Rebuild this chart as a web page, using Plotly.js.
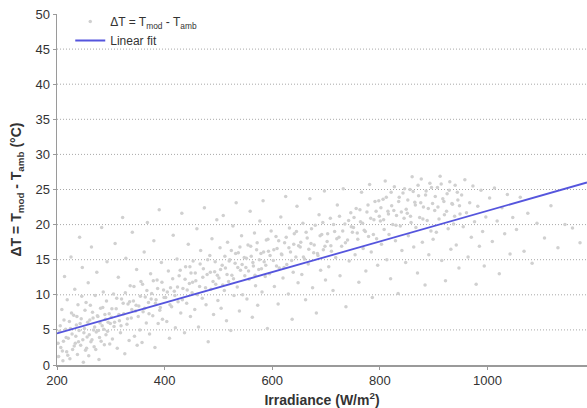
<!DOCTYPE html>
<html>
<head>
<meta charset="utf-8">
<script src="https://cdn.plot.ly/plotly-3.0.1.min.js"></script>
<style>html,body{margin:0;padding:0;background:#fff;}#chart{width:587px;height:408px;}</style>
</head>
<body>
<div id="chart"></div>
<script>
const irradiance = [
203,205,207,209,211,212,214,216,218,219,221,223,224,226,228,229,231,233,234,236,238,239,241,242,244,245,247,248,249,246,
251,253,254,256,258,259,261,263,264,266,268,269,271,273,274,276,278,279,281,283,284,286,288,289,291,293,295,298,
301,303,305,306,308,310,312,314,316,318,320,322,324,326,328,330,332,334,336,338,340,342,344,346,348,349,
352,354,356,358,360,362,364,366,368,370,372,374,376,378,380,382,384,386,388,390,392,394,396,398,
402,404,407,409,411,413,416,418,420,423,425,427,430,432,434,437,439,441,444,446,448,449,
451,453,456,458,460,463,465,467,470,472,474,477,479,481,484,486,488,491,493,495,497,499,
501,503,505,507,509,511,513,515,517,519,521,523,525,527,529,531,533,535,537,539,541,543,545,548,
551,553,555,557,559,561,563,565,567,569,571,573,575,577,579,581,583,585,587,589,591,593,595,598,
602,604,607,609,611,613,616,618,620,623,625,627,630,632,634,637,639,641,644,646,648,649,
652,655,657,660,662,665,667,670,672,675,677,680,682,685,687,690,692,695,697,699,
702,705,708,710,713,716,718,721,724,726,729,732,735,737,740,743,746,749,
751,754,756,759,761,764,766,769,771,774,776,779,781,784,786,789,791,794,796,799,
801,803,806,808,810,813,815,817,820,822,824,827,829,831,834,836,838,841,843,845,848,849,
851,853,856,858,860,863,865,867,870,872,874,877,879,881,884,886,888,891,893,895,898,899,
902,905,907,910,912,915,917,920,922,925,927,930,932,935,937,940,942,945,947,949,
952,955,958,961,964,967,970,973,976,979,982,985,988,991,994,997,
1004,1009,1013,1018,1022,1027,1032,1037,1042,1047,
1054,1061,1068,1075,1083,1092,
1106,1118,1131,1144,
1158,1172,
202,206,210,213,217,220,225,227,232,235,237,240,243,250,252,255,257,260,262,265,267,270,272,275,277,280,282,285,287,290,292,294,297,299,
302,307,311,315,319,323,327,331,335,339,343,347,351,355,359,363,367,371,375,379,383,387,391,395,399,
405,410,415,419,424,429,433,438,442,447,
452,457,461,466,471,476,480,485,490,494,498,
504,508,512,516,520,524,528,532,536,540,544,549,
552,556,560,564,568,572,576,580,584,588,592,596,
603,608,612,617,622,626,631,636,640,645,
653,658,663,668,673,678,684,689,694,698,
703,709,714,720,725,731,736,742,747,
752,758,763,768,773,778,783,788,793,798,
802,807,812,816,821,826,830,835,840,846,
852,857,862,866,871,876,880,885,890,896,
903,908,914,919,924,929,934,939,944,948
];
const deltaT = [
1.2,4.8,2.5,7.9,0.6,3.4,12.6,5.1,1.9,9.3,3.8,6.2,0.9,15.4,4.4,2.2,7.1,10.8,3.1,5.7,1.5,8.6,4.9,18.2,2.8,6.6,13.9,3.6,0.4,9.8,
5.2,2.1,8.9,4.0,11.7,1.3,6.4,3.3,16.8,7.5,5.0,2.6,9.9,4.7,13.2,6.9,0.8,3.9,8.1,19.6,5.6,10.4,2.9,7.2,4.3,14.7,6.1,3.0,
6.8,3.7,10.1,5.5,17.3,8.0,2.4,12.5,6.3,4.6,9.4,21.0,7.3,1.6,15.2,5.8,8.7,3.5,11.3,6.7,18.9,9.1,4.1,7.7,13.6,2.8,
8.4,5.0,11.9,3.2,7.6,16.1,9.7,6.0,20.3,8.9,4.4,13.0,10.2,7.0,17.7,2.5,9.3,12.1,5.9,22.1,8.2,14.6,6.5,10.7,
9.6,6.2,13.4,3.8,11.0,8.3,18.5,10.5,5.3,15.1,9.0,12.7,7.4,21.6,10.9,4.6,14.0,8.8,17.2,11.6,6.9,13.1,
10.3,14.8,7.9,12.0,19.4,5.4,11.2,16.3,9.5,13.7,22.4,8.6,12.9,3.3,15.6,10.8,18.0,7.2,13.3,11.5,20.7,9.2,
12.4,16.7,8.1,14.2,21.3,10.6,13.8,6.3,17.5,11.9,15.0,4.9,12.8,19.8,9.9,14.5,23.1,11.1,16.0,7.7,13.5,18.4,10.0,15.3,
13.9,9.4,17.1,12.2,21.9,15.5,6.8,14.1,18.8,11.3,16.4,8.5,13.6,20.5,15.9,10.4,23.4,14.7,12.6,17.8,5.2,16.2,13.0,19.1,
14.9,11.2,18.3,16.6,8.7,13.8,21.1,15.7,12.4,17.4,24.0,14.3,10.1,19.5,16.1,6.5,13.2,18.7,15.4,22.6,11.7,17.0,
16.8,12.9,20.2,15.1,9.3,18.1,14.4,23.7,17.3,11.0,16.0,19.9,7.4,15.6,21.4,13.5,18.6,16.4,24.8,12.1,
17.6,14.0,20.9,16.2,10.6,19.0,15.3,22.8,18.2,12.7,16.9,25.1,20.1,8.3,17.8,14.8,21.7,18.9,
19.6,15.7,22.3,17.9,11.8,20.4,24.6,16.6,19.2,13.4,21.8,18.3,25.7,16.1,9.6,20.7,23.3,18.0,14.2,21.2,
20.5,17.2,23.6,19.3,26.2,15.0,21.9,18.6,12.3,22.7,20.0,25.4,17.7,21.3,10.2,23.9,19.8,16.3,24.5,20.9,14.6,22.2,
21.6,18.4,25.0,20.3,26.8,16.8,23.2,19.6,13.1,24.1,21.0,26.5,17.5,22.5,11.4,24.8,20.6,15.7,25.9,19.1,23.0,17.9,
22.0,18.9,25.3,20.8,26.9,14.9,23.7,21.4,12.0,24.4,19.4,26.1,16.5,22.9,20.1,25.6,17.1,23.5,13.8,21.5,
24.2,19.7,26.4,21.7,15.4,23.1,18.2,25.5,20.4,11.5,22.6,16.9,24.9,19.0,14.1,21.1,
23.8,17.6,25.2,20.5,13.0,22.4,18.7,24.3,15.8,21.0,
19.3,23.9,16.2,21.6,14.5,20.2,
18.1,22.7,16.7,20.0,
19.5,17.4,
3.1,5.6,2.0,6.4,3.9,1.4,5.2,7.4,2.7,4.1,6.9,3.3,5.9,4.6,7.8,2.4,6.1,4.3,8.5,3.6,6.7,5.4,2.2,7.0,4.9,6.0,3.4,8.2,5.1,6.5,9.1,4.8,7.3,5.9,
8.0,6.1,9.5,7.2,5.6,8.8,10.3,6.6,9.0,7.9,11.2,8.5,6.9,9.8,11.5,8.1,10.6,7.3,9.4,12.0,8.8,10.9,7.8,11.8,9.6,
10.4,8.6,12.3,9.9,11.1,13.5,9.3,12.2,10.7,14.0,
11.8,13.1,10.0,14.4,12.5,11.0,15.0,13.2,11.9,14.7,12.8,
13.6,11.4,15.5,12.9,14.8,16.3,12.3,15.9,13.9,16.8,14.3,12.7,
15.2,13.4,16.9,14.6,12.8,17.4,15.0,13.7,16.1,14.2,17.9,15.6,
16.4,14.1,17.7,15.8,13.9,18.2,16.7,14.9,17.2,19.0,
17.5,15.4,18.9,16.5,19.4,17.1,15.9,18.4,20.3,16.9,
18.7,17.0,20.0,18.0,21.2,19.1,17.4,20.6,19.7,
21.0,18.8,22.1,20.2,19.0,22.8,20.9,18.6,21.9,23.4,
22.4,20.7,23.9,21.5,24.6,22.0,19.9,23.3,21.8,25.1,
23.5,21.2,24.7,22.8,25.6,23.1,20.8,24.2,22.3,25.3,
24.0,22.5,25.8,23.3,21.9,24.9,23.0,21.2,24.6,22.7
];
// Linear fit end points
const fitIrradiance = [200, 1185];
const fitDeltaT = [4.5, 26.0];
const yTicks = [0, 5, 10, 15, 20, 25, 30, 35, 40, 45, 50];
const xTicks = [200, 400, 600, 800, 1000];

const font = 'Liberation Sans, Arial, Helvetica, sans-serif';
const traces = [
  {
    x: irradiance, y: deltaT, type: 'scatter', mode: 'markers',
    name: 'ΔT = T<sub>mod</sub> - T<sub>amb</sub>',
    marker: {color: '#d0d0d0', size: 3.5}
  },
  {
    x: fitIrradiance, y: fitDeltaT, type: 'scatter', mode: 'lines',
    name: 'Linear fit',
    line: {color: '#5555dd', width: 1.8}
  }
];
// dotted horizontal gridlines (no line at the top value)
const gridShapes = yTicks.slice(1, -1).map(v => ({
  type: 'line', xref: 'paper', x0: 0, x1: 1, yref: 'y', y0: v, y1: v,
  line: {color: '#a8a8a8', width: 1, dash: '1px,2px'}, layer: 'below'
}));
const layout = {
  width: 587, height: 408,
  margin: {l: 57, r: 0, t: 14, b: 43, pad: 0},
  paper_bgcolor: '#fff', plot_bgcolor: '#fff',
  font: {family: font, color: '#333', size: 13},
  showlegend: true,
  legend: {x: 0.025, y: 1.02, xanchor: 'left', yanchor: 'top', bgcolor: 'rgba(0,0,0,0)',
           font: {size: 12, color: '#333'}, tracegroupgap: 0, itemwidth: 30},
  shapes: gridShapes,
  xaxis: {
    range: [200, 1185], tickvals: xTicks, ticktext: xTicks.map(String),
    showgrid: false, zeroline: false, showline: true, linecolor: '#9a9a9a', linewidth: 1.5,
    ticks: 'outside', ticklen: 3, tickcolor: '#9a9a9a',
    tickfont: {size: 13, color: '#333'},
    title: {text: '<b>Irradiance (W/m<sup>2</sup>)</b>', font: {size: 14, color: '#333'}, standoff: 8}
  },
  yaxis: {
    range: [0, 50], tickvals: yTicks, ticktext: yTicks.map(String),
    showgrid: false, zeroline: false, showline: true, linecolor: '#9a9a9a', linewidth: 1.5,
    ticks: 'outside', ticklen: 3, tickcolor: '#9a9a9a',
    tickfont: {size: 13, color: '#333'},
    title: {text: '<b>ΔT = T<sub>mod</sub> - T<sub>amb</sub> (°C)</b>', font: {size: 14, color: '#333'}, standoff: 10}
  }
};
Plotly.newPlot('chart', traces, layout, {staticPlot: true, displayModeBar: false});
</script>
</body>
</html>
